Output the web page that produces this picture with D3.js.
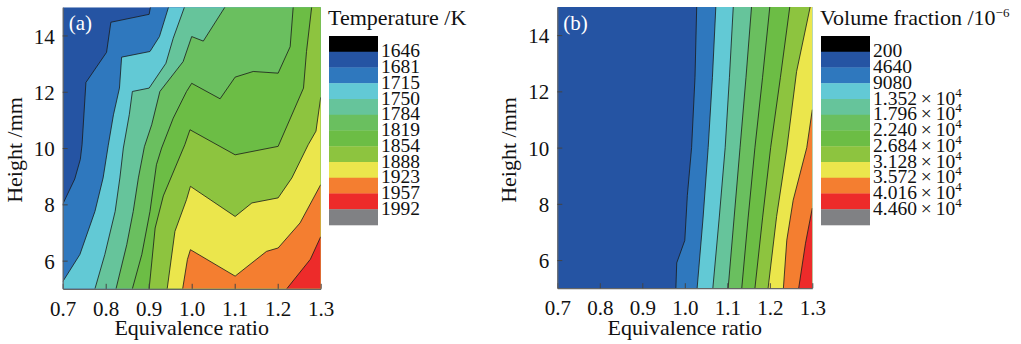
<!DOCTYPE html>
<html><head><meta charset="utf-8">
<script src="https://cdn.jsdelivr.net/npm/d3@7"></script>
<style>
html,body{margin:0;padding:0;background:#fff;}
svg{display:block;}
text{font-family:"Liberation Serif","DejaVu Serif",serif;fill:#111;}
</style></head>
<body>
<svg id="chart" width="1021" height="344"></svg>
<script>
// ---------- data ----------
const xTicks = [0.7, 0.8, 0.9, 1.0, 1.1, 1.2, 1.3];
const yTicks = [6, 8, 10, 12, 14];
const xDomain = [0.7, 1.3];
const yDomain = [5, 15];

const palette = ["#000000", "#2554a3", "#2f78be", "#62c9d5", "#66c49b", "#6abf5f",
                 "#6cbd45", "#8dc43f", "#ebe64c", "#f47e30", "#ed2b2a", "#808184"];

// Temperature legend levels (K)
const tempLevels = [1646, 1681, 1715, 1750, 1784, 1819, 1854, 1888, 1923, 1957, 1992];
// Volume fraction legend levels (10^-6)
const vfLevels = [200, 4640, 9080, 13520, 17960, 22400, 26840, 31280, 35720, 40160, 44600];
const vfLabels = [["200"], ["4640"], ["9080"], ["1.352", "4"], ["1.796", "4"], ["2.240", "4"],
                  ["2.684", "4"], ["3.128", "4"], ["3.572", "4"], ["4.016", "4"], ["4.460", "4"]];

// Panel (a): temperature isolines [equivalence ratio, height mm]
const tIso1681 = [[0.904,15],[0.901,14.75],[0.812,14.47],[0.802,13.40],[0.754,12.33],[0.745,10.12],[0.741,9.6],[0.728,8.9],[0.7,8.0]];
const tIso1715 = [[0.946,15],[0.925,13.96],[0.903,13.43],[0.837,13.23],[0.832,12.13],[0.818,11.18],[0.806,10.1],[0.794,8.94],[0.775,7.75],[0.74,6.22],[0.7,5.25]];
const tIso1750 = [[0.983,15],[0.957,13.9],[0.94,13.01],[0.901,12.13],[0.862,12.01],[0.855,11.2],[0.841,10.0],[0.833,8.94],[0.822,7.75],[0.798,6.22],[0.775,5.0]];
const tIso1784 = [[1.077,15],[1.027,13.8],[1.0,13.96],[0.98,13.07],[0.926,12.01],[0.907,10.83],[0.89,10.05],[0.876,8.94],[0.864,7.75],[0.849,6.57],[0.824,5.0]];
const tIso1819 = [[1.236,15],[1.229,13.6],[1.201,12.66],[1.143,12.72],[1.101,12.52],[1.066,11.75],[1.0,12.30],[0.988,12.01],[0.957,11.06],[0.93,10.0],[0.918,9.41],[0.903,7.75],[0.884,6.22],[0.862,5.0]];
const tIso1854 = [[1.279,15],[1.267,13.43],[1.26,12.13],[1.201,10.06],[1.101,9.76],[0.996,10.65],[0.984,10.12],[0.934,8.3],[0.915,7.16],[0.901,5.0]];
const tIso1888 = [[1.3,11.8],[1.289,10.6],[1.271,10.12],[1.233,8.94],[1.201,8.23],[1.14,8.05],[1.101,7.57],[0.997,8.64],[0.988,8.17],[0.961,7.04],[0.943,5.0]];
const tIso1923 = [[1.3,8.7],[1.252,7.34],[1.201,6.45],[1.174,6.33],[1.101,5.45],[0.997,6.39],[0.99,6.04],[0.979,5.0]];
const tIso1957 = [[1.3,6.85],[1.276,6.05],[1.221,5.0]];
const tempIsolines = [
  {level: 1681, pts: tIso1681}, {level: 1715, pts: tIso1715}, {level: 1750, pts: tIso1750},
  {level: 1784, pts: tIso1784}, {level: 1819, pts: tIso1819}, {level: 1854, pts: tIso1854},
  {level: 1888, pts: tIso1888}, {level: 1923, pts: tIso1923}, {level: 1957, pts: tIso1957}];

// Panel (b): volume fraction isolines
const vIso4640  = [[1.028,15],[1.024,12.5],[1.016,10],[1.006,8.3],[1.0,6.7],[0.981,5.9],[0.979,5]];
const vIso9080  = [[1.073,15],[1.065,12.5],[1.055,10],[1.043,7.5],[1.029,5]];
const vIso13520 = [[1.114,15],[1.105,12.5],[1.095,10],[1.081,7.5],[1.066,5]];
const vIso17960 = [[1.157,15],[1.144,12.5],[1.13,10],[1.116,7.5],[1.102,5]];
const vIso22400 = [[1.2,15],[1.183,12.5],[1.165,10],[1.149,7.5],[1.134,5]];
const vIso26840 = [[1.247,15],[1.225,12.5],[1.202,10],[1.183,7.5],[1.165,5]];
const vIso31280 = [[1.295,15],[1.263,12.7],[1.24,9.95],[1.216,7.55],[1.196,5]];
const vIso35720 = [[1.3,11.35],[1.287,10.0],[1.255,8.13],[1.24,6.71],[1.232,5.0]];
const vIso40160 = [[1.3,7.85],[1.284,6.6],[1.268,5]];
const vfIsolines = [
  {level: 4640, pts: vIso4640}, {level: 9080, pts: vIso9080}, {level: 13520, pts: vIso13520},
  {level: 17960, pts: vIso17960}, {level: 22400, pts: vIso22400}, {level: 26840, pts: vIso26840},
  {level: 31280, pts: vIso31280}, {level: 35720, pts: vIso35720}, {level: 40160, pts: vIso40160}];

// ---------- drawing ----------
const svg = d3.select("#chart");

function panel(opt) {
  const g = svg.append("g");
  const x = d3.scaleLinear().domain(xDomain).range([opt.left, opt.right]);
  const y = d3.scaleLinear().domain(yDomain).range([opt.bottom, opt.top]);
  const clipId = "clip" + opt.tag;
  svg.append("defs").append("clipPath").attr("id", clipId)
    .append("rect").attr("x", opt.left).attr("y", opt.top)
    .attr("width", opt.right - opt.left).attr("height", opt.bottom - opt.top);
  const area = g.append("g").attr("clip-path", `url(#${clipId})`);
  const levelIdx = l => opt.levels.indexOf(l);
  const firstIdx = levelIdx(opt.isolines[0].level);
  area.append("rect").attr("x", opt.left).attr("y", opt.top)
    .attr("width", opt.right - opt.left).attr("height", opt.bottom - opt.top)
    .attr("fill", palette[firstIdx]);
  const line = d3.line().x(d => x(d[0])).y(d => y(d[1]));
  const eps = 1e-6;
  opt.isolines.forEach(iso => {
    const p = iso.pts.slice();
    const first = p[0], last = p[p.length - 1];
    if (Math.abs(last[0] - xDomain[0]) < eps) p.push([xDomain[0], yDomain[0]]);
    p.push([xDomain[1], yDomain[0]]);
    if (Math.abs(first[1] - yDomain[1]) < eps) p.push([xDomain[1], yDomain[1]]);
    area.append("path").attr("d", line(p) + "Z")
      .attr("fill", palette[levelIdx(iso.level) + 1]).attr("stroke", "none");
  });
  opt.isolines.forEach(iso => {
    area.append("path").attr("d", line(iso.pts)).attr("fill", "none")
      .attr("stroke", "#1a1a1a").attr("stroke-width", 0.8);
  });

  // axes
  const xAxis = d3.axisBottom(x).tickValues(xTicks).tickFormat(d3.format(".1f"))
    .tickSizeInner(-5).tickSizeOuter(0).tickPadding(12);
  const gx = g.append("g").attr("transform", `translate(0,${opt.bottom})`).call(xAxis);
  const yAxis = d3.axisLeft(y).tickValues(yTicks).tickFormat(d3.format("d"))
    .tickSizeInner(-5).tickSizeOuter(0).tickPadding(8);
  const gy = g.append("g").attr("transform", `translate(${opt.left},0)`).call(yAxis);
  [gx, gy].forEach(a => {
    a.select(".domain").attr("stroke", "#666").attr("stroke-width", 1.2);
    a.selectAll(".tick line").attr("stroke", "#444").attr("stroke-width", 1);
    a.selectAll(".tick text").attr("font-family", '"Liberation Serif", serif')
      .attr("font-size", 21).attr("fill", "#111");
  });
  gx.selectAll(".tick line").attr("y2", -5);
  gy.selectAll(".tick text").attr("dy", "0.36em");

  g.append("text").attr("x", (opt.left + opt.right) / 2).attr("y", 335)
    .attr("text-anchor", "middle").attr("font-size", 22).text("Equivalence ratio");
  g.append("text").attr("transform", `translate(${opt.left - 41},150) rotate(-90)`)
    .attr("text-anchor", "middle").attr("font-size", 22).text("Height /mm");
  g.append("text").attr("x", opt.left + 6).attr("y", 30).attr("font-size", 21)
    .style("fill", "#fff").text(opt.tag === "a" ? "(a)" : "(b)");

  // legend
  const lg = svg.append("g");
  const sw = 49, top = 36, bandH = 15.75;
  const ly = d3.scaleLinear().domain([0, 12]).range([top, top + 12 * bandH]);
  palette.forEach((c, i) => {
    lg.append("rect").attr("x", opt.legX).attr("y", ly(i)).attr("width", sw)
      .attr("height", ly(i + 1) - ly(i) + 0.3).attr("fill", c);
  });
  opt.labels.forEach((lab, i) => {
    const t = lg.append("text").attr("x", opt.legX + sw + 3).attr("y", ly(i + 1) + 5.5)
      .attr("font-size", 19.5);
    if (lab.length === 1) t.text(lab[0]);
    else {
      t.append("tspan").text(lab[0] + "\u2009×\u200910");
      t.append("tspan").attr("font-size", 13).attr("dy", -8).text(lab[1]);
    }
  });
  const title = lg.append("text").attr("x", opt.legX - 1).attr("y", 25).attr("font-size", 22);
  title.append("tspan").text(opt.title);
  if (opt.titleSup) title.append("tspan").attr("font-size", 13).attr("dy", -8).text(opt.titleSup);
}

panel({tag: "a", left: 62.7, right: 320.7, top: 7.3, bottom: 288.8,
  levels: tempLevels, isolines: tempIsolines, legX: 329,
  labels: tempLevels.map(v => [String(v)]), title: "Temperature /K"});
panel({tag: "b", left: 557.3, right: 812.3, top: 7.0, bottom: 288.2,
  levels: vfLevels, isolines: vfIsolines, legX: 821,
  labels: vfLabels, title: "Volume fraction /10", titleSup: "\u22126"});
</script>
</body></html>
